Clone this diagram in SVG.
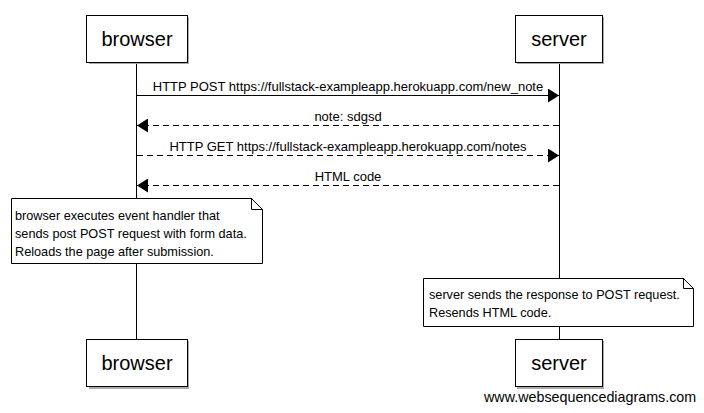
<svg xmlns="http://www.w3.org/2000/svg" width="704" height="413" viewBox="0 0 704 413">
<defs>
<marker id="ah" markerWidth="12" markerHeight="14" refX="11" refY="7" orient="auto" markerUnits="userSpaceOnUse">
<path d="M0,0 L11,7 L0,14 z" fill="#000"/>
</marker>
</defs>
<style>
.box{fill:#fff;stroke:#000;stroke-width:1}
.shadow{fill:#aaa}
.life{stroke:#000;stroke-width:1}
.hdr{font-family:"Liberation Sans",Arial,sans-serif;font-size:20px;fill:#000;text-anchor:middle}
.msg{font-family:"Liberation Sans",Arial,sans-serif;font-size:13px;fill:#000;text-anchor:middle}
.note{font-family:"Liberation Sans",Arial,sans-serif;font-size:12.7px;fill:#000}
.solid{stroke:#000;stroke-width:1;fill:none}
.dash{stroke:#000;stroke-width:1;fill:none;stroke-dasharray:6,4}
.wm{font-family:"Liberation Sans",Arial,sans-serif;font-size:14.3px;fill:#000}
</style>
<g id="lifelines">
<line class="life" x1="136.5" y1="63" x2="136.5" y2="339"/>
<line class="life" x1="559.5" y1="63" x2="559.5" y2="339"/>
</g>
<g id="browser-top">
<rect class="shadow" x="89" y="17" width="100" height="47"/>
<rect class="box" x="86.5" y="15.5" width="101" height="47"/>
<text class="hdr" x="137" y="46">browser</text>
</g>
<g id="server-top">
<rect class="shadow" x="517" y="17" width="87" height="47"/>
<rect class="box" x="515.5" y="15.5" width="87" height="47"/>
<text class="hdr" x="559" y="46">server</text>
</g>
<g id="connectors">
<line class="solid" x1="137" y1="95.5" x2="559" y2="95.5" marker-end="url(#ah)"/>
<text class="msg" x="348" y="91">HTTP POST https://fullstack-exampleapp.herokuapp.com/new_note</text>
<line class="dash" x1="559" y1="125.5" x2="137" y2="125.5" marker-end="url(#ah)"/>
<text class="msg" x="348" y="121">note: sdgsd</text>
<line class="dash" x1="137" y1="155.5" x2="559" y2="155.5" marker-end="url(#ah)"/>
<text class="msg" x="348" y="151">HTTP GET https://fullstack-exampleapp.herokuapp.com/notes</text>
<line class="dash" x1="559" y1="185.5" x2="137" y2="185.5" marker-end="url(#ah)"/>
<text class="msg" x="348" y="181">HTML code</text>
</g>
<g id="note-browser">
<path class="box" d="M11.5,198.5 L251.5,198.5 L262.5,209.5 L262.5,263.5 L11.5,263.5 Z"/>
<path class="solid" d="M251.5,198.5 L251.5,209.5 L262.5,209.5"/>
<text class="note" x="15" y="220">browser executes event handler that</text>
<text class="note" x="15" y="238">sends post POST request with form data.</text>
<text class="note" x="15" y="256">Reloads the page after submission.</text>
</g>
<g id="note-server">
<path class="box" d="M423.5,278.5 L683.5,278.5 L693.5,288.5 L693.5,326.5 L423.5,326.5 Z"/>
<path class="solid" d="M683.5,278.5 L683.5,288.5 L693.5,288.5"/>
<text class="note" x="429" y="299">server sends the response to POST request.</text>
<text class="note" x="429" y="317">Resends HTML code.</text>
</g>
<g id="browser-bottom">
<rect class="shadow" x="89" y="341" width="100" height="48"/>
<rect class="box" x="86.5" y="339.5" width="101" height="47"/>
<text class="hdr" x="137" y="370">browser</text>
</g>
<g id="server-bottom">
<rect class="shadow" x="517" y="341" width="87" height="48"/>
<rect class="box" x="515.5" y="339.5" width="87" height="47"/>
<text class="hdr" x="559" y="370">server</text>
</g>
<text class="wm" x="484" y="402">www.websequencediagrams.com</text>
</svg>
